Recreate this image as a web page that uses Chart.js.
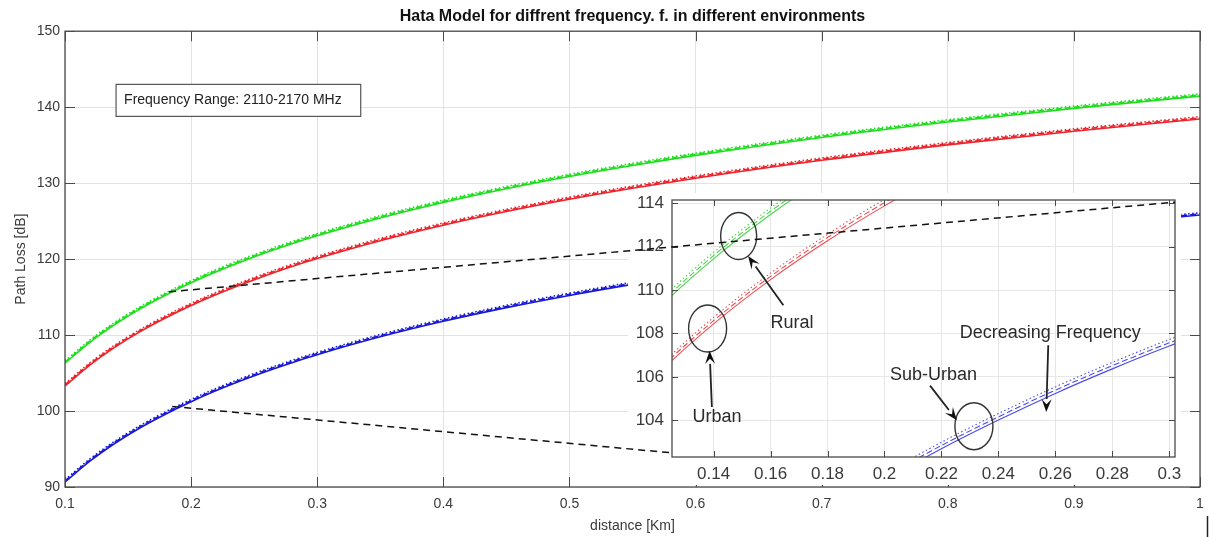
<!DOCTYPE html>
<html><head><meta charset="utf-8">
<script src="https://cdn.jsdelivr.net/npm/chart.js@4/dist/chart.umd.min.js"></script>
<style>
html,body{margin:0;padding:0;background:#fff;}
#wrap{position:relative;width:1209px;height:537px;overflow:hidden;background:#fff;}
#main{position:absolute;left:0;top:0;}
#inset{position:absolute;left:628px;top:193px;}
#over{position:absolute;left:0;top:0;pointer-events:none;}
</style></head><body>
<div id="wrap">
<canvas id="main" width="1209" height="537"></canvas>
<canvas id="inset" width="553" height="292"></canvas>
<canvas id="over" width="1209" height="537"></canvas>
</div>
<script>
// ---- data (distance in km, path loss in dB) ----
const distances = [0.1,0.12,0.14,0.16,0.18,0.2,0.22,0.24,0.26,0.28,0.3,0.35,0.4,0.45,0.5,0.55,0.6,0.7,0.8,0.9,1.0];

const ruralSolid  = [106.30,109.08,111.44,113.48,115.27,116.88,118.34,119.66,120.89,122.02,123.07,125.42,127.46,129.26,130.87,132.32,133.65,136.01,138.04,139.84,141.45];
const ruralDashed = [106.45,109.23,111.59,113.63,115.42,117.03,118.49,119.81,121.04,122.17,123.22,125.57,127.61,129.41,131.02,132.47,133.80,136.16,138.19,139.99,141.60];
const ruralDotted = [106.60,109.38,111.74,113.78,115.57,117.18,118.64,119.96,121.19,122.32,123.37,125.72,127.76,129.56,131.17,132.62,133.95,136.31,138.34,140.14,141.75];

const urbanSolid  = [103.30,106.08,108.44,110.48,112.27,113.88,115.34,116.66,117.89,119.02,120.07,122.42,124.46,126.26,127.87,129.32,130.65,133.01,135.04,136.84,138.45];
const urbanDashed = [103.45,106.23,108.59,110.63,112.42,114.03,115.49,116.81,118.04,119.17,120.22,122.57,124.61,126.41,128.02,129.47,130.80,133.16,135.19,136.99,138.60];
const urbanDotted = [103.60,106.38,108.74,110.78,112.57,114.18,115.64,116.96,118.19,119.32,120.37,122.72,124.76,126.56,128.17,129.62,130.95,133.31,135.34,137.14,138.75];

const suburbanSolid  = [90.65,93.43,95.79,97.83,99.62,101.23,102.69,104.01,105.24,106.37,107.42,109.77,111.81,113.61,115.22,116.67,118.00,120.36,122.39,124.19,125.80];
const suburbanDashed = [90.80,93.58,95.94,97.98,99.77,101.38,102.84,104.16,105.39,106.52,107.57,109.92,111.96,113.76,115.37,116.82,118.15,120.51,122.54,124.34,125.95];
const suburbanDotted = [90.95,93.73,96.09,98.13,99.92,101.53,102.99,104.31,105.54,106.67,107.72,110.07,112.11,113.91,115.52,116.97,118.30,120.66,122.69,124.49,126.10];

const mainXTicks = [0.1,0.2,0.3,0.4,0.5,0.6,0.7,0.8,0.9,1.0];
const mainYTicks = [90,100,110,120,130,140,150];
const insetXTicks = [0.14,0.16,0.18,0.2,0.22,0.24,0.26,0.28,0.3];
const insetYTicks = [104,106,108,110,112,114];
const insetXRange = [0.1254, 0.302];
const insetYRange = [102.31, 114.15];

const TITLE = 'Hata Model for diffrent frequency. f. in different environments';
const FREQ_NOTE = 'Frequency Range: 2110-2170 MHz';

// ---- styling ----
const FONT = "'Liberation Sans', Arial, sans-serif";
const AXIS = '#4a4a4a';
const GRID = '#e2e2e2';
const TXT = '#3a3a3a';

const pts = arr => distances.map((d,i)=>({x:d, y:arr[i]}));
function mkSet(arr, color, dash, width){
  return {data: pts(arr), borderColor: color, borderWidth: width, borderDash: dash,
    pointRadius: 0, fill: false, cubicInterpolationMode: 'monotone'};
}
const fmt = v => String(Number(v.toFixed(2)));

function buildSets(colors, width){
  const [g,r,b] = colors;
  const DASH = [6,3], DOT = [1.5,2.5];
  return [
    mkSet(ruralSolid, g, [], width), mkSet(ruralDashed, g, DASH, width), mkSet(ruralDotted, g, DOT, width),
    mkSet(urbanSolid, r, [], width), mkSet(urbanDashed, r, DASH, width), mkSet(urbanDotted, r, DOT, width),
    mkSet(suburbanSolid, b, [], width), mkSet(suburbanDashed, b, DASH, width), mkSet(suburbanDotted, b, DOT, width)
  ];
}

function drawFrame(chart, tl){
  const {ctx, chartArea:a, scales:{x,y}} = chart;
  ctx.save();
  ctx.strokeStyle = AXIS; ctx.lineWidth = 1;
  ctx.beginPath();
  for (const t of x.ticks){
    const px = Math.round(x.getPixelForValue(t.value))+0.5;
    ctx.moveTo(px,a.top); ctx.lineTo(px,a.top+tl);
    ctx.moveTo(px,a.bottom); ctx.lineTo(px,a.bottom-tl);
  }
  for (const t of y.ticks){
    const py = Math.round(y.getPixelForValue(t.value))+0.5;
    ctx.moveTo(a.left,py); ctx.lineTo(a.left+tl,py);
    ctx.moveTo(a.right,py); ctx.lineTo(a.right-tl,py);
  }
  ctx.stroke();
  ctx.lineWidth = 1.3;
  ctx.strokeRect(a.left, a.top, a.right-a.left, a.bottom-a.top);
  ctx.restore();
}

const mainPlugin = {
  id:'mainDecor',
  afterDraw(chart){
    drawFrame(chart, 10);
    const {ctx, scales:{x,y}} = chart;
    ctx.save();
    ctx.font = '14px ' + FONT;
    const w = ctx.measureText(FREQ_NOTE).width;
    const bx = x.getPixelForValue(0.1405), by = y.getPixelForValue(143.0);
    ctx.fillStyle = '#fff';
    ctx.fillRect(bx, by, w+27, 32);
    ctx.strokeStyle = '#555'; ctx.lineWidth = 1.2;
    ctx.strokeRect(bx, by, w+27, 32);
    ctx.fillStyle = '#222'; ctx.textBaseline = 'middle';
    ctx.fillText(FREQ_NOTE, bx+8, by+16);
    ctx.restore();
  }
};

function axisCommon(ticksArr, size, pad, gridColor){
  return {
    afterBuildTicks: s => { s.ticks = ticksArr.map(v=>({value:v})); },
    grid:{color:gridColor, drawTicks:false, lineWidth:1},
    border:{display:false},
    ticks:{padding:pad, color:TXT, font:{family:FONT, size:size}, callback: v=>fmt(v), maxRotation:0, autoSkip:false}
  };
}
function noPad(s){ s.paddingLeft = 0; s.paddingRight = 0; s.paddingTop = 0; s.paddingBottom = 0; }

const mainChart = new Chart(document.getElementById('main'), {
  type:'line',
  data:{datasets: buildSets(['rgb(30,222,30)','rgb(236,36,44)','rgb(26,26,212)'], 1.6)},
  options:{
    responsive:false, animation:false, events:[],
    layout:{padding:{left:0,right:9,top:0,bottom:0}},
    plugins:{legend:{display:false}, tooltip:{enabled:false},
      title:{display:true, fullSize:false, text:TITLE, color:'#111',
        font:{family:FONT, size:16, weight:'bold'}, padding:{top:7,bottom:5}}},
    scales:{
      x:Object.assign({type:'linear', min:0.1, max:1,
        afterFit: s => { s.height = 50; noPad(s); },
        title:{display:true, text:'distance [Km]', color:TXT, font:{family:FONT,size:14}, padding:{top:0,bottom:2}}
      }, axisCommon(mainXTicks, 14, 9, GRID)),
      y:Object.assign({type:'linear', min:90, max:150,
        afterFit: s => { s.width = 65; noPad(s); },
        title:{display:true, text:'Path Loss [dB]', color:TXT, font:{family:FONT,size:14}, padding:{top:13,bottom:0}}
      }, axisCommon(mainYTicks, 14, 5, GRID))
    }
  },
  plugins:[mainPlugin]
});

function arrow(ctx, x1,y1,x2,y2){
  const ang = Math.atan2(y2-y1, x2-x1), L = 13, W = 5;
  const bx = x2 - L*Math.cos(ang), by = y2 - L*Math.sin(ang);
  ctx.beginPath(); ctx.moveTo(x1,y1); ctx.lineTo(bx,by); ctx.stroke();
  ctx.beginPath();
  ctx.moveTo(x2,y2);
  ctx.lineTo(bx + W*Math.sin(ang), by - W*Math.cos(ang));
  ctx.lineTo(x2 - 0.6*L*Math.cos(ang), y2 - 0.6*L*Math.sin(ang));
  ctx.lineTo(bx - W*Math.sin(ang), by + W*Math.cos(ang));
  ctx.closePath(); ctx.fill();
}

const insetPlugin = {
  id:'insetDecor',
  beforeDraw(chart){
    const {ctx, width, height} = chart;
    ctx.save(); ctx.fillStyle = '#fff'; ctx.fillRect(0,0,width,height); ctx.restore();
  },
  afterDraw(chart){
    drawFrame(chart, 6);
    const {ctx, scales:{x,y}} = chart;
    const P = (d,v) => [x.getPixelForValue(d), y.getPixelForValue(v)];
    ctx.save();
    ctx.strokeStyle = '#333'; ctx.fillStyle = '#111'; ctx.lineWidth = 1.4;
    const ell = (d,v,rx,ry) => { const [cx,cy] = P(d,v); ctx.beginPath(); ctx.ellipse(cx,cy,rx,ry,0,0,Math.PI*2); ctx.stroke(); };
    ell(0.1488,112.49,18,23.5);
    ell(0.1379,108.23,19,23.5);
    ell(0.2314,103.73,19,23.5);
    ctx.strokeStyle = '#222'; ctx.lineWidth = 1.8;
    arrow(ctx, ...P(0.1645,109.3), ...P(0.1521,111.57));
    arrow(ctx, ...P(0.1394,104.61), ...P(0.1386,107.2));
    arrow(ctx, ...P(0.2160,105.6), ...P(0.2254,104.0));
    arrow(ctx, ...P(0.2575,107.46), ...P(0.2568,104.38));
    ctx.fillStyle = '#2a2a2a'; ctx.font = '18px ' + FONT;
    ctx.textAlign = 'center'; ctx.textBaseline = 'middle';
    ctx.fillText('Rural', ...P(0.1675,108.46));
    ctx.fillText('Urban', ...P(0.1412,104.15));
    ctx.fillText('Sub-Urban', ...P(0.2172,106.08));
    ctx.fillText('Decreasing Frequency', ...P(0.2582,108.0));
    ctx.restore();
  }
};

const insetChart = new Chart(document.getElementById('inset'), {
  type:'line',
  data:{datasets: buildSets(['rgb(80,210,80)','rgb(234,80,84)','rgb(76,76,230)'], 1.1)},
  options:{
    responsive:false, animation:false, events:[],
    layout:{padding:{left:0,right:6,top:7,bottom:0}},
    plugins:{legend:{display:false}, tooltip:{enabled:false}, title:{display:false}},
    scales:{
      x:Object.assign({type:'linear', min:insetXRange[0], max:insetXRange[1],
        afterFit: s => { s.height = 28; noPad(s); }
      }, axisCommon(insetXTicks, 17, 7, '#e6e6e6')),
      y:Object.assign({type:'linear', min:insetYRange[0], max:insetYRange[1],
        afterFit: s => { s.width = 44; noPad(s); }
      }, axisCommon(insetYTicks, 17, 8, '#e6e6e6'))
    }
  },
  plugins:[insetPlugin]
});

// ---- zoom connector lines (overlay) ----
(function(){
  const c = document.getElementById('over'), ctx = c.getContext('2d');
  const ox = 628, oy = 193;
  const mx = mainChart.scales.x, my = mainChart.scales.y;
  const ix = insetChart.scales.x, iy = insetChart.scales.y;
  ctx.strokeStyle = '#111'; ctx.lineWidth = 1.5; ctx.setLineDash([7,5]);
  ctx.beginPath();
  ctx.moveTo(mx.getPixelForValue(0.1825), my.getPixelForValue(115.7));
  ctx.lineTo(ox + ix.getPixelForValue(insetXRange[1]), oy + iy.getPixelForValue(114.05));
  ctx.moveTo(mx.getPixelForValue(0.185), my.getPixelForValue(100.6));
  ctx.lineTo(ox + ix.getPixelForValue(insetXRange[0]), oy + iy.getPixelForValue(102.5));
  ctx.stroke();
  ctx.setLineDash([]);
  ctx.lineWidth = 1.5; ctx.strokeStyle = '#222';
  ctx.beginPath(); ctx.moveTo(1207.5, 516); ctx.lineTo(1207.5, 537); ctx.stroke();
})();
</script>
</body></html>
